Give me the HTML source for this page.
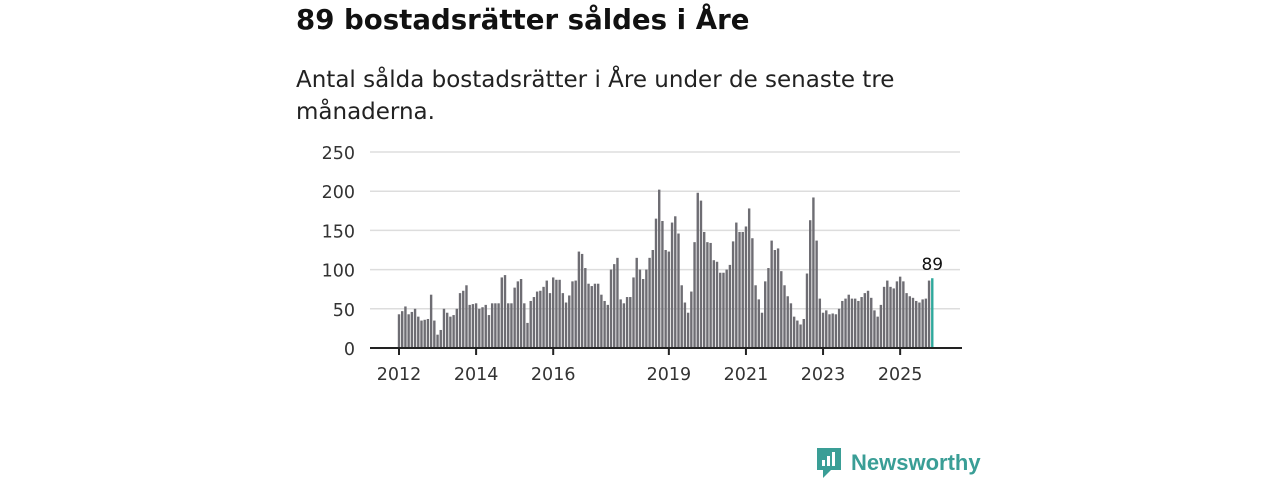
<!DOCTYPE html>
<html><head><meta charset="utf-8"><style>
body{margin:0;width:1280px;height:480px;background:#fff;font-family:"DejaVu Sans",sans-serif;overflow:hidden;position:relative}
#t{position:absolute;left:296px;top:3px;font-size:27.6px;font-weight:bold;color:#111}
#s{position:absolute;left:296px;top:64px;font-size:23px;line-height:32px;color:#222;width:640px}
svg{position:absolute;left:0;top:0}
#logo{position:absolute;left:815px;top:446px;display:flex;align-items:center;color:#3a9e96;font-size:22px;font-weight:bold;font-family:"Liberation Sans",sans-serif}
</style></head><body>
<div id="t">89 bostadsrätter såldes i Åre</div>
<div id="s">Antal sålda bostadsrätter i Åre under de senaste tre månaderna.</div>
<svg id="c" width="1280" height="480"></svg>
<div id="logo">
<svg width="28" height="34" style="position:static;margin-right:8px"><path d="M2 2h24v22h-10l-8 8v-8h-6z" fill="#3a9e96"/><rect x="7" y="14" width="3" height="6" fill="#fff"/><rect x="12" y="10" width="3" height="10" fill="#fff"/><rect x="17" y="6" width="3" height="14" fill="#fff"/></svg>Newsworthy</div>
<script>
const values=[43,47,53,43,46,50,40,35,36,37,68,35,
17,23,50,45,40,42,50,70,73,80,55,56,
57,50,52,55,42,57,57,57,90,93,57,57,
77,85,88,57,32,60,65,72,73,78,86,70,
90,87,87,70,58,67,85,86,123,120,102,82,
79,82,82,68,60,55,100,107,115,62,57,65,
65,90,115,100,88,100,115,125,165,202,162,125,
123,160,168,146,80,58,45,72,135,198,188,148,
135,134,112,110,96,96,100,106,136,160,148,148,
155,178,140,80,62,45,85,102,137,125,127,98,
80,66,57,40,35,30,37,95,163,192,137,
63,45,48,43,44,43,50,60,63,68,63,63,
60,65,70,73,64,48,40,55,78,86,78,76,
85,91,85,70,66,64,60,58,62,63,86,89];
const yTicks=[0,50,100,150,200,250];
const xTickLabels=["2012","2014","2016","2019","2021","2023","2025"];
const NS="http://www.w3.org/2000/svg",svg=document.getElementById('c');
const y=v=>348-v*0.784;
const xYear=yr=>399+(yr-2012)*38.55;
const n=values.length,pitch=3.2125;
const xBar=i=>399+i*pitch;
function mk(t,a){const e=document.createElementNS(NS,t);for(const k in a)e.setAttribute(k,a[k]);svg.appendChild(e);return e;}
yTicks.forEach(v=>{
 if(v>0){const l=mk('line',{x1:370,x2:960,y1:y(v),y2:y(v),stroke:'#ddd','stroke-width':1.5});
 
 }
 const t=mk('text',{x:355,y:y(v)+7,'text-anchor':'end','font-size':17.5,fill:'#333','font-family':'DejaVu Sans'});
 t.textContent=v;
 
 
});
values.forEach((v,i)=>{
 const last=i===n-1;
 const r=mk('rect',{x:xBar(i)-1.2,y:y(v),width:2.4,height:348-y(v),fill:last?'#2fa89c':'#6e6d73'});
 
 
});
const lbl=mk('text',{x:xBar(n-1),y:y(values[n-1])-8,'text-anchor':'middle','font-size':17,fill:'#111','font-family':'DejaVu Sans'});
lbl.textContent=values[n-1];


const ax=mk('line',{x1:370,x2:962,y1:348,y2:348,stroke:'#222','stroke-width':2});


xTickLabels.forEach(s=>{
 const x=xYear(+s);
 const tk=mk('line',{x1:x,x2:x,y1:348,y2:355,stroke:'#222','stroke-width':2});
 
 
 const t=mk('text',{x:x,y:380,'text-anchor':'middle','font-size':17.5,fill:'#333','font-family':'DejaVu Sans'});
 t.textContent=s;
 
 
});
</script>
</body></html>
